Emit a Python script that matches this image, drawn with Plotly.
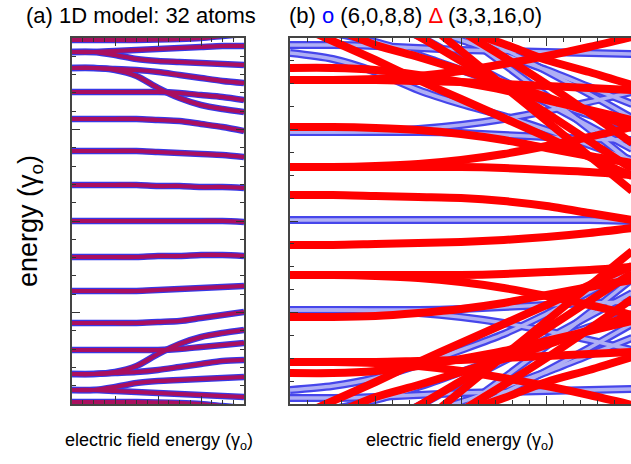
import plotly.graph_objects as go

# ---------------- panel (a): 1D model, 32 atoms ----------------
field_a = [0.0, 0.1, 0.2, 0.3, 0.4, 0.5, 0.6, 0.7, 0.8]
levels_a = {
    "a0": [0.00, 0.00, 0.00, 0.00, 0.00, 0.00, 0.00, 0.00, -0.01],
    "a1": [0.36, 0.36, 0.36, 0.36, 0.35, 0.35, 0.34, 0.34, 0.33],
    "a2": [0.70, 0.70, 0.70, 0.70, 0.69, 0.68, 0.67, 0.66, 0.64],
    "a3": [1.02, 1.02, 1.02, 1.02, 1.01, 1.00, 0.97, 0.94, 0.90],
    "a4": [1.29, 1.29, 1.29, 1.29, 1.29, 1.28, 1.26, 1.24, 1.21],
    "a5": [1.53, 1.53, 1.51, 1.45, 1.33, 1.23, 1.16, 1.12, 1.09],
    "a6": [1.53, 1.53, 1.52, 1.51, 1.49, 1.46, 1.43, 1.40, 1.38],
    "a7": [1.69, 1.69, 1.70, 1.71, 1.72, 1.73, 1.74, 1.75, 1.75],
    "a8": [1.69, 1.69, 1.66, 1.62, 1.60, 1.59, 1.58, 1.57, 1.56],
    "a9": [1.81, 1.81, 1.81, 1.81, 1.815, 1.82, 1.83, 1.85, 1.87],
    "b1": [-0.36, -0.36, -0.36, -0.36, -0.35, -0.35, -0.34, -0.34, -0.35],
    "b2": [-0.70, -0.70, -0.70, -0.70, -0.69, -0.68, -0.67, -0.66, -0.65],
    "b3": [-1.02, -1.02, -1.02, -1.02, -1.01, -1.00, -0.97, -0.94, -0.91],
    "b4": [-1.29, -1.29, -1.29, -1.29, -1.29, -1.28, -1.26, -1.24, -1.22],
    "b5": [-1.53, -1.53, -1.51, -1.45, -1.33, -1.23, -1.16, -1.12, -1.09],
    "b6": [-1.53, -1.53, -1.52, -1.51, -1.49, -1.46, -1.43, -1.40, -1.39],
    "b7": [-1.69, -1.69, -1.70, -1.71, -1.72, -1.73, -1.74, -1.75, -1.76],
    "b8": [-1.69, -1.69, -1.66, -1.62, -1.60, -1.59, -1.58, -1.57, -1.56],
    "b9": [-1.81, -1.81, -1.81, -1.81, -1.815, -1.82, -1.83, -1.85, -1.87],
}

# ---------------- panel (b): (6,0,8,8) circles, (3,3,16,0) triangles ----------------
field_b = [0.0, 0.25, 0.5, 0.75, 1.0, 1.25, 1.5, 1.75, 2.0]
levels_circ = {
    "c0": [0.01, 0.01, 0.01, 0.01, 0.01, 0.01, 0.01, 0.01, 0.00],
    "c1": [0.89, 0.89, 0.89, 0.89, 0.88, 0.86, 0.84, 0.82, 0.81],
    "c1m": [-0.89, -0.89, -0.89, -0.89, -0.88, -0.86, -0.84, -0.82, -0.81],
    "c2": [1.68, 1.62, 1.49, 1.31, 1.17, 1.05, 0.91, 0.76, 0.61],
    "c2m": [-1.69, -1.65, -1.57, -1.44, -1.29, -1.13, -0.93, -0.71, -0.49],
    "c3": [1.76, 1.76, 1.75, 1.73, 1.71, 1.70, 1.69, 1.68, 1.67],
    "c3m": [-1.77, -1.77, -1.76, -1.74, -1.72, -1.71, -1.70, -1.69, -1.68],
    "c4": [1.96, 1.88, 1.79, 1.66, 1.51, 1.36, 1.21, 1.06, 0.93],
    "c4m": [-1.96, -1.88, -1.79, -1.66, -1.51, -1.36, -1.21, -1.06, -0.93],
    "c5": [2.16, 2.11, 2.03, 1.93, 1.81, 1.66, 1.51, 1.34, 1.17],
    "c5m": [-2.16, -2.11, -2.03, -1.93, -1.81, -1.66, -1.51, -1.34, -1.17],
    "c6": [2.40, 2.25, 2.05, 1.85, 1.62, 1.40, 1.18, 0.95, 0.72],
    "c6m": [-2.40, -2.25, -2.05, -1.85, -1.62, -1.40, -1.18, -0.95, -0.72],
    "c7": [2.60, 2.45, 2.30, 2.12, 1.92, 1.72, 1.50, 1.27, 1.03],
    "c7m": [-2.60, -2.45, -2.30, -2.12, -1.92, -1.72, -1.50, -1.27, -1.03],
    "c8": [0.89, 0.89, 0.90, 0.92, 0.96, 1.02, 1.10, 1.19, 1.29],
    "c8m": [-0.89, -0.89, -0.90, -0.92, -0.96, -1.02, -1.10, -1.19, -1.29],
    "c9": [2.90, 2.70, 2.45, 2.18, 1.88, 1.57, 1.25, 0.92, 0.58],
    "c9m": [-2.90, -2.70, -2.45, -2.18, -1.88, -1.57, -1.25, -0.92, -0.58],
}
levels_tri = {
    "t1": [0.26, 0.26, 0.25, 0.24, 0.23, 0.20, 0.15, 0.08, 0.01],
    "t1m": [-0.24, -0.24, -0.23, -0.22, -0.21, -0.19, -0.16, -0.12, -0.07],
    "t2": [0.54, 0.54, 0.54, 0.54, 0.54, 0.53, 0.51, 0.49, 0.46],
    "t2m": [-0.54, -0.54, -0.54, -0.54, -0.54, -0.53, -0.51, -0.49, -0.46],
    "t3": [0.94, 0.94, 0.93, 0.91, 0.87, 0.81, 0.73, 0.65, 0.58],
    "t3m": [-0.96, -0.96, -0.95, -0.92, -0.88, -0.82, -0.74, -0.66, -0.59],
    "t4": [1.41, 1.41, 1.41, 1.40, 1.39, 1.37, 1.35, 1.33, 1.31],
    "t4m": [-1.41, -1.41, -1.41, -1.40, -1.39, -1.37, -1.35, -1.33, -1.31],
    "t5": [1.53, 1.53, 1.51, 1.46, 1.39, 1.31, 1.21, 1.11, 1.01],
    "t5m": [-1.52, -1.52, -1.50, -1.45, -1.38, -1.30, -1.20, -1.10, -1.00],
    "t6": [1.99, 1.80, 1.61, 1.41, 1.22, 1.03, 0.84, 0.64, 0.45],
    "t6m": [-1.99, -1.80, -1.61, -1.41, -1.22, -1.03, -0.84, -0.64, -0.45],
    "t7": [2.06, 1.93, 1.76, 1.64, 1.51, 1.38, 1.24, 1.09, 0.94],
    "t7m": [-2.06, -1.93, -1.76, -1.64, -1.51, -1.38, -1.24, -1.09, -0.94],
    "t8": [2.21, 2.16, 2.09, 2.01, 1.91, 1.77, 1.61, 1.49, 1.36],
    "t8m": [-2.21, -2.16, -2.09, -2.01, -1.91, -1.77, -1.61, -1.49, -1.36],
    "t9": [2.50, 2.30, 2.08, 1.85, 1.60, 1.35, 1.08, 0.80, 0.52],
    "t9m": [-2.50, -2.30, -2.08, -1.85, -1.60, -1.35, -1.08, -0.80, -0.52],
    "t10": [2.80, 2.60, 2.38, 2.15, 1.90, 1.64, 1.37, 1.08, 0.78],
    "t10m": [-2.80, -2.60, -2.38, -2.15, -1.90, -1.64, -1.37, -1.08, -0.78],
    "t11": [3.00, 2.70, 2.40, 2.05, 1.70, 1.35, 1.00, 0.65, 0.30],
    "t11m": [-3.00, -2.70, -2.40, -2.05, -1.70, -1.35, -1.00, -0.65, -0.30],
    "t12": [1.41, 1.41, 1.42, 1.45, 1.50, 1.57, 1.65, 1.74, 1.84],
    "t12m": [-1.41, -1.41, -1.42, -1.45, -1.50, -1.57, -1.65, -1.74, -1.84],
    "t13": [0.54, 0.54, 0.55, 0.57, 0.61, 0.67, 0.75, 0.84, 0.94],
    "t13m": [-0.54, -0.54, -0.55, -0.57, -0.61, -0.67, -0.75, -0.84, -0.94],
}

fig = go.Figure()

# panel (a): blue outline + purple core
for name, ys in levels_a.items():
    fig.add_trace(go.Scatter(x=field_a, y=ys, mode="lines", xaxis="x", yaxis="y",
                             line=dict(color="rgb(55,55,230)", width=6.5, shape="spline", smoothing=0.8),
                             hoverinfo="skip", showlegend=False))
for name, ys in levels_a.items():
    fig.add_trace(go.Scatter(x=field_a, y=ys, mode="lines", xaxis="x", yaxis="y",
                             line=dict(color="rgb(170,15,95)", width=4.2, shape="spline", smoothing=0.8),
                             hoverinfo="skip", showlegend=False))

# panel (b): open-circle bands (blue) then triangle bands (red)
for name, ys in levels_circ.items():
    fig.add_trace(go.Scatter(x=field_b, y=ys, mode="lines", xaxis="x2", yaxis="y2",
                             line=dict(color="rgb(70,70,235)", width=8, shape="spline", smoothing=0.8),
                             hoverinfo="skip", showlegend=False))
for name, ys in levels_circ.items():
    fig.add_trace(go.Scatter(x=field_b, y=ys, mode="lines", xaxis="x2", yaxis="y2",
                             line=dict(color="rgb(175,175,245)", width=3.5, shape="spline", smoothing=0.8),
                             hoverinfo="skip", showlegend=False))
for name, ys in levels_tri.items():
    fig.add_trace(go.Scatter(x=field_b, y=ys, mode="lines", xaxis="x2", yaxis="y2",
                             line=dict(color="rgb(255,0,0)", width=8, shape="spline", smoothing=0.8),
                             hoverinfo="skip", showlegend=False))

W, H = 631, 464
axis_common = dict(showgrid=False, zeroline=False, showticklabels=False, showline=True,
                   linecolor="#444", linewidth=1.6, ticks="inside",
                   tickcolor="#333", tickwidth=1.2)

fig.update_layout(
    width=W, height=H, margin=dict(l=0, r=0, t=0, b=0),
    paper_bgcolor="white", plot_bgcolor="white",
    font=dict(family="Liberation Sans, Arial, sans-serif", color="black"),
    xaxis=dict(domain=[72 / W, 244 / W], range=[0, 0.8], anchor="y", mirror="ticks",
               tick0=0, dtick=0.2, ticklen=8,
               minor=dict(dtick=0.05, ticklen=4, ticks="inside", tickcolor="#333"), **axis_common),
    yaxis=dict(domain=[1 - 404 / H, 1 - 38 / H], range=[-1.83, 1.83], anchor="x", mirror="ticks",
               tick0=0, dtick=0.915, ticklen=8,
               minor=dict(dtick=0.183, ticklen=4, ticks="inside", tickcolor="#333"), **axis_common),
    xaxis2=dict(domain=[290 / W, 1.0], range=[0, 1.994], anchor="y2", mirror="ticks",
                tick0=0, dtick=0.5, ticklen=8,
                minor=dict(dtick=0.1, ticklen=4, ticks="inside", tickcolor="#333"), **axis_common),
    yaxis2=dict(domain=[1 - 404 / H, 1 - 38 / H], range=[-1.83, 1.83], anchor="x2", mirror=False,
                tick0=0, dtick=0.915, ticklen=8,
                minor=dict(dtick=0.22875, ticklen=4, ticks="inside", tickcolor="#333"), **axis_common),
)

annotations = [
    dict(text="(a) 1D model: 32 atoms", x=24 / W, y=1 - 16 / H, xref="paper", yref="paper",
         xanchor="left", yanchor="middle", showarrow=False, font=dict(size=22)),
    dict(text="(b) <span style='color:rgb(0,0,255)'>o</span> (6,0,8,8) "
              "<span style='color:rgb(255,0,0)'>Δ</span> (3,3,16,0)",
         x=287 / W, y=1 - 16 / H, xref="paper", yref="paper",
         xanchor="left", yanchor="middle", showarrow=False, font=dict(size=22)),
    dict(text="energy (γ<sub>o</sub>)", x=30 / W, y=1 - 221 / H, xref="paper", yref="paper",
         xanchor="center", yanchor="middle", textangle=-90, showarrow=False, font=dict(size=27)),
    dict(text="electric field energy (γ<sub>o</sub>)", x=159 / W, y=1 - 441 / H,
         xref="paper", yref="paper", xanchor="center", yanchor="middle", showarrow=False,
         font=dict(size=18)),
    dict(text="electric field energy (γ<sub>o</sub>)", x=460 / W, y=1 - 441 / H,
         xref="paper", yref="paper", xanchor="center", yanchor="middle", showarrow=False,
         font=dict(size=18)),
]
fig.update_layout(annotations=annotations)

fig.write_html("out.html")
